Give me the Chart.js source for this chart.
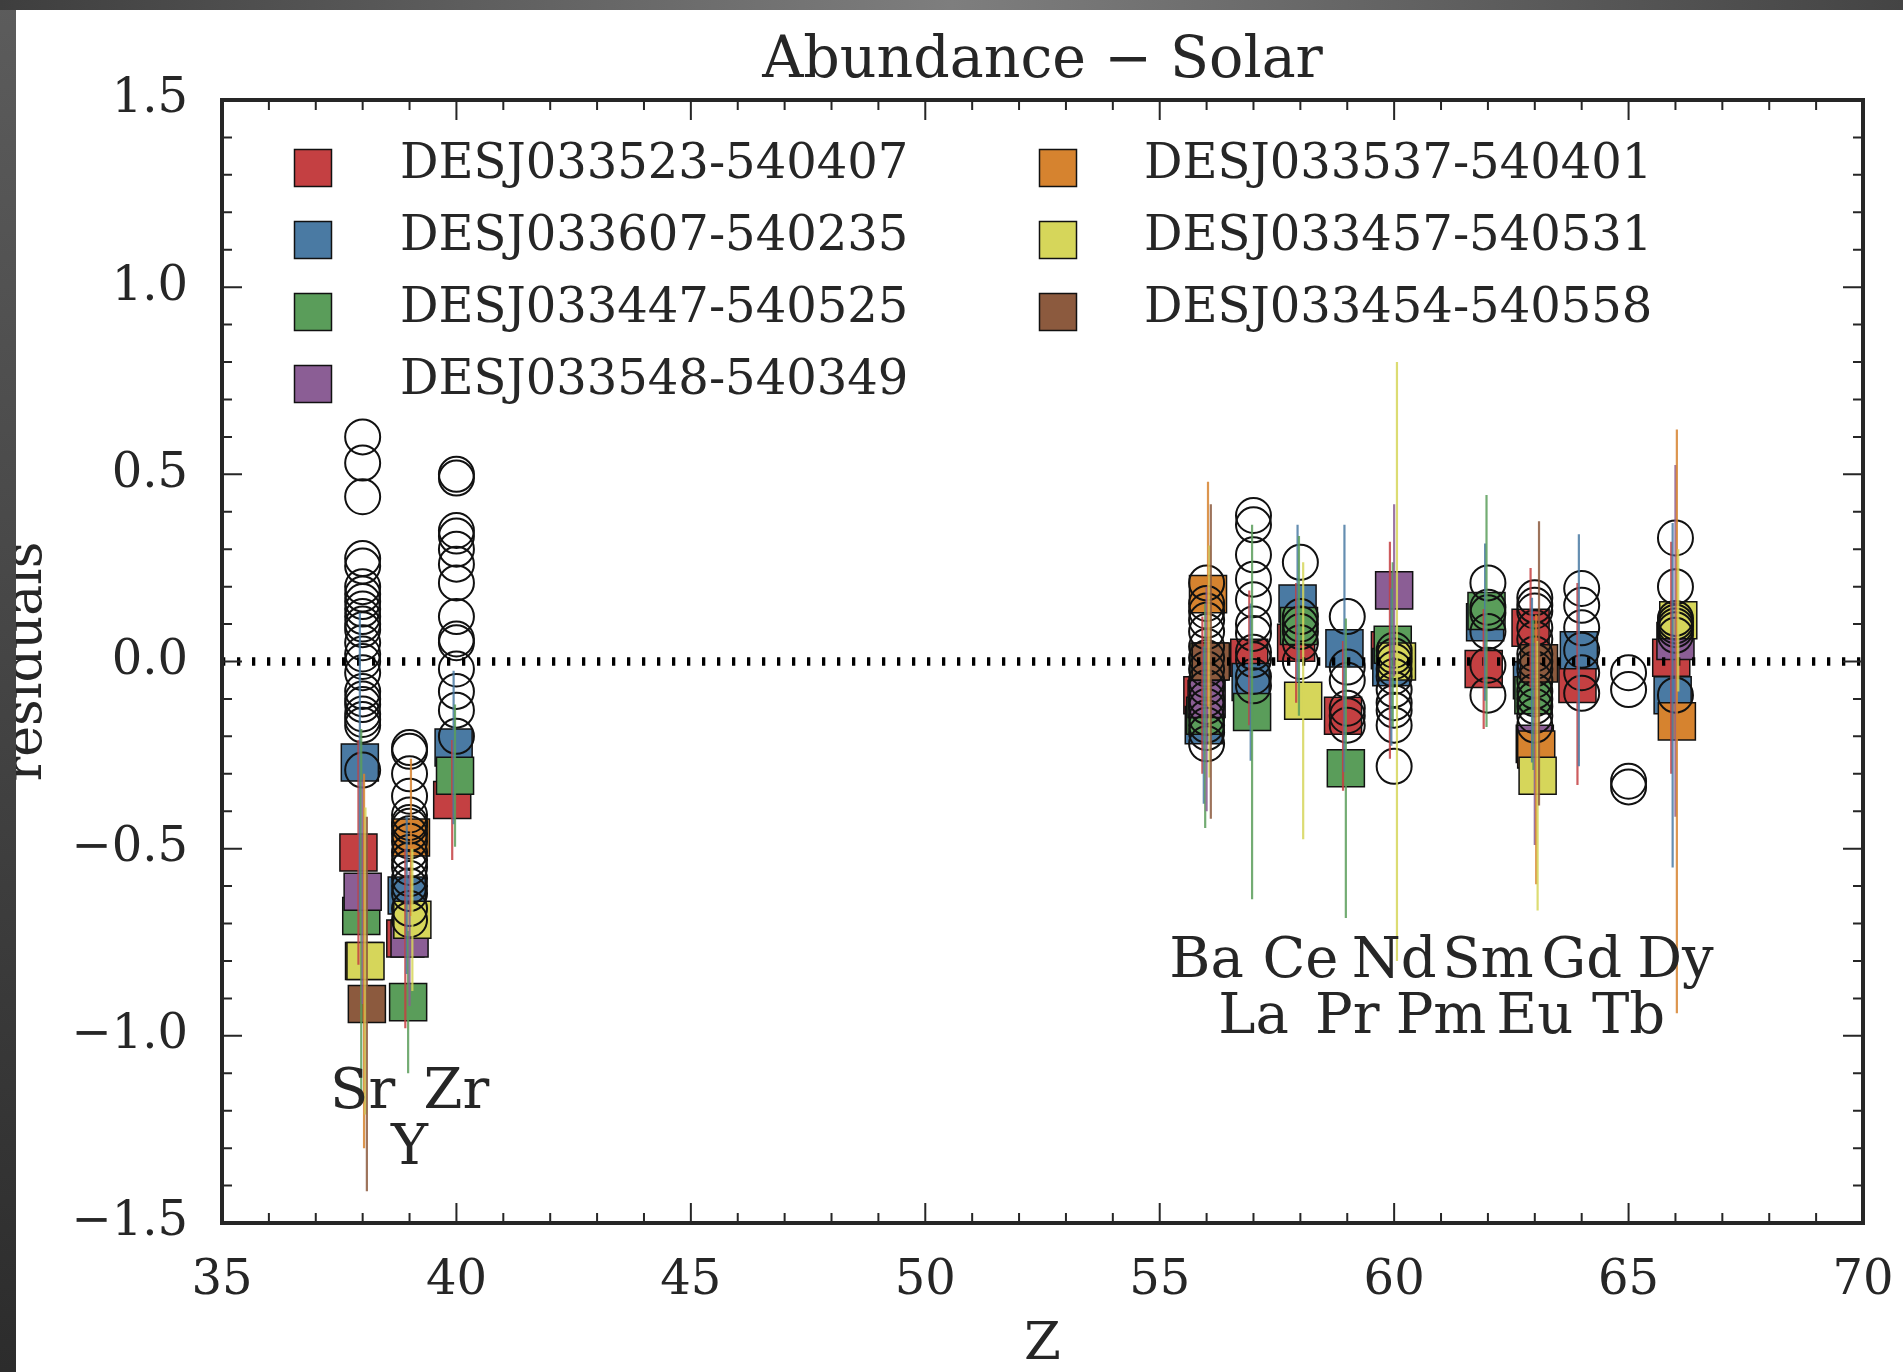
<!DOCTYPE html>
<html>
<head>
<meta charset="utf-8">
<title>Abundance - Solar</title>
<script src="https://cdn.jsdelivr.net/npm/chart.js@4.4.1/dist/chart.umd.min.js"></script>
<style>
  html, body { margin: 0; padding: 0; background: #fff; }
  #wrap { position: relative; width: 1903px; height: 1372px; overflow: hidden; }
  #chart { position: absolute; left: 0; top: 0; }
  #edge-left { position: absolute; left: 0; top: 0; width: 16px; height: 1372px;
    background: linear-gradient(to bottom, #5c5c5c, #2c2c2c); }
  #edge-top { position: absolute; left: 0; top: 0; width: 1903px; height: 10px;
    background: linear-gradient(to right, #3e3e3e, #7e7e7e 50%, #444); }
</style>
</head>
<body>
<div id="wrap">
  <canvas id="chart" width="1903" height="1372"></canvas>
  <div id="edge-left"></div>
  <div id="edge-top"></div>
</div>
<script>
// element labels along the x axis
const elementNames = ['Sr', 'Y', 'Zr', 'Ba', 'La', 'Ce', 'Pr', 'Nd', 'Pm', 'Sm', 'Eu', 'Gd', 'Tb', 'Dy'];
const elementZ = [38, 39, 40, 56, 57, 58, 59, 60, 61, 62, 63, 64, 65, 66];

const xTicks = [35, 40, 45, 50, 55, 60, 65, 70];
const yTicks = [-1.5, -1.0, -0.5, 0.0, 0.5, 1.0, 1.5];

const starNames = [
  'DESJ033523-540407', 'DESJ033607-540235', 'DESJ033447-540525', 'DESJ033548-540349',
  'DESJ033537-540401', 'DESJ033457-540531', 'DESJ033454-540558'
];
const starColors = ['#c44042', '#4a7aa3', '#5a9d5a', '#8b5e95', '#d6832f', '#d6d65a', '#8c5a3e'];

// residuals and errors per star
const redZ = [38, 39, 40, 56, 57, 58, 59, 60, 62, 63, 64, 66];
const redRes = [-0.51, -0.74, -0.37, -0.09, 0.01, 0.05, -0.145, 0.03, -0.02, 0.09, -0.06, 0.01];
const redErr = [0.30, 0.24, 0.16, 0.21, 0.18, 0.16, 0.20, 0.29, 0.16, 0.16, 0.27, 0.31];

const blueZ = [38, 39, 40, 56, 57, 58, 59, 60, 62, 63, 64, 66];
const blueRes = [-0.27, -0.625, -0.23, -0.17, -0.055, 0.155, 0.035, -0.015, 0.105, -0.05, 0.03, -0.09];
const blueErr = [0.40, 0.21, 0.205, 0.21, 0.21, 0.21, 0.33, 0.21, 0.21, 0.22, 0.31, 0.46];

const greenZ = [38, 39, 40, 56, 57, 58, 59, 60, 62, 63];
const greenRes = [-0.68, -0.91, -0.305, -0.145, -0.135, 0.095, -0.285, 0.045, 0.135, -0.09];
const greenErr = [0.50, 0.19, 0.19, 0.30, 0.50, 0.24, 0.40, 0.22, 0.31, 0.20];

const purpleZ = [38, 39, 56, 60, 63, 66];
const purpleRes = [-0.615, -0.74, -0.10, 0.19, -0.22, 0.055];
const purpleErr = [0.30, 0.18, 0.30, 0.23, 0.27, 0.47];

const orangeZ = [38, 39, 56, 63, 66];
const orangeRes = [-0.80, -0.47, 0.18, -0.235, -0.16];
const orangeErr = [0.50, 0.21, 0.30, 0.36, 0.78];

const yellowZ = [38, 39, 56, 58, 60, 63, 66];
const yellowRes = [-0.80, -0.69, 0.0, -0.105, 0.0, -0.305, 0.11];
const yellowErr = [0.41, 0.19, 0.31, 0.37, 0.80, 0.36, 0.19];

const brownZ = [38, 56, 63];
const brownRes = [-0.915, 0.0, -0.005];
const brownErr = [0.50, 0.42, 0.38];

// comparison stars (open circles), per element
const srRef = [0.60, 0.53, 0.44, 0.275, 0.255, 0.20, 0.18, 0.16, 0.14, 0.12, 0.10, 0.085, 0.05, 0.02, 0.0, -0.03, -0.08, -0.10, -0.115, -0.14, -0.155, -0.17, -0.29];
const yRef = [-0.23, -0.24, -0.30, -0.36, -0.41, -0.43, -0.44, -0.46, -0.48, -0.51, -0.53, -0.55, -0.58, -0.60, -0.62, -0.66, -0.69];
const zrRef = [0.50, 0.49, 0.35, 0.335, 0.30, 0.26, 0.21, 0.12, 0.06, 0.05, -0.02, -0.08, -0.13, -0.20];
const baRef = [0.21, 0.155, 0.135, 0.11, 0.08, 0.04, 0.01, -0.02, -0.05, -0.07, -0.10, -0.12, -0.15, -0.17, -0.19, -0.22];
const laRef = [0.39, 0.365, 0.285, 0.22, 0.165, 0.10, 0.075, 0.025, 0.005, -0.04, -0.065];
const ceRef = [0.265, 0.12, 0.10, 0.08, 0.05, 0.0];
const prRef = [0.12, -0.015, -0.05, -0.125, -0.145, -0.17];
const ndRef = [0.03, 0.015, 0.0, -0.02, -0.04, -0.075, -0.11, -0.13, -0.17, -0.28];
const smRef = [0.21, 0.145, 0.13, 0.08, -0.01, -0.09];
const euRef = [0.17, 0.15, 0.135, 0.09, 0.06, 0.02, 0.0, -0.02, -0.05, -0.08, -0.10, -0.12, -0.145, -0.17];
const gdRef = [0.195, 0.15, 0.09, 0.03, -0.03, -0.085];
const tbRef = [-0.03, -0.075, -0.32, -0.335];
const dyRef = [0.33, 0.20, 0.115, 0.105, 0.095, 0.085, 0.07, -0.09];

const ink = '#262626';
const serif = "'DejaVu Serif', serif";
const jitter = 0.03;

const starZ = [redZ, blueZ, greenZ, purpleZ, orangeZ, yellowZ, brownZ];
const starRes = [redRes, blueRes, greenRes, purpleRes, orangeRes, yellowRes, brownRes];
const starErr = [redErr, blueErr, greenErr, purpleErr, orangeErr, yellowErr, brownErr];

const refSets = [[38, srRef], [39, yRef], [40, zrRef], [56, baRef], [57, laRef], [58, ceRef],
  [59, prRef], [60, ndRef], [62, smRef], [63, euRef], [64, gdRef], [65, tbRef], [66, dyRef]];

function xOffset(i) {
  return (i - 3) * jitter;
}

function rgba(hex, a) {
  const n = parseInt(hex.slice(1), 16);
  return `rgba(${(n >> 16) & 255}, ${(n >> 8) & 255}, ${n & 255}, ${a})`;
}

const squareSets = starNames.map((name, i) => ({
  label: name,
  data: starZ[i].map((z, j) => ({ x: z + xOffset(i), y: starRes[i][j] })),
  pointStyle: 'rect',
  pointRadius: 26.2,
  backgroundColor: starColors[i],
  borderColor: '#111',
  borderWidth: 1.5,
  order: 20 - i
}));

const circleSet = {
  label: 'comparison',
  data: refSets.flatMap(([z, vals]) => vals.map(v => ({ x: z, y: v }))),
  pointStyle: 'circle',
  pointRadius: 17.5,
  backgroundColor: 'rgba(0,0,0,0)',
  borderColor: '#111',
  borderWidth: 2,
  order: 10
};

const zeroLine = {
  type: 'line',
  label: 'zero',
  data: [{ x: 35, y: 0 }, { x: 70, y: 0 }],
  borderColor: '#000',
  borderWidth: 8.5,
  borderDash: [3.3, 11.7],
  pointRadius: 0,
  order: 5
};

// vertical error bars, drawn over the markers
const errorBars = {
  id: 'errorBars',
  afterDatasetsDraw(chart) {
    const { ctx, scales: { x, y } } = chart;
    ctx.save();
    ctx.lineWidth = 2.2;
    starZ.forEach((zs, i) => {
      ctx.strokeStyle = rgba(starColors[i], 0.85);
      ctx.beginPath();
      zs.forEach((z, j) => {
        const px = x.getPixelForValue(z + xOffset(i));
        ctx.moveTo(px, y.getPixelForValue(starRes[i][j] + starErr[i][j]));
        ctx.lineTo(px, y.getPixelForValue(starRes[i][j] - starErr[i][j]));
      });
      ctx.stroke();
    });
    ctx.restore();
  }
};

// box with inward major and minor ticks on all four sides
const axisBox = {
  id: 'axisBox',
  afterDatasetsDraw(chart) {
    const { ctx, chartArea: a, scales: { x, y } } = chart;
    ctx.save();
    ctx.strokeStyle = ink;
    ctx.lineWidth = 2;
    ctx.beginPath();
    for (let v = 35; v <= 70; v++) {
      const px = x.getPixelForValue(v);
      const len = v % 5 === 0 ? 20 : 10;
      ctx.moveTo(px, a.bottom); ctx.lineTo(px, a.bottom - len);
      ctx.moveTo(px, a.top); ctx.lineTo(px, a.top + len);
    }
    for (let k = -15; k <= 15; k++) {
      const py = y.getPixelForValue(k / 10);
      const len = k % 5 === 0 ? 20 : 10;
      ctx.moveTo(a.left, py); ctx.lineTo(a.left + len, py);
      ctx.moveTo(a.right, py); ctx.lineTo(a.right - len, py);
    }
    ctx.stroke();
    ctx.lineWidth = 4;
    ctx.strokeRect(a.left, a.top, a.right - a.left, a.bottom - a.top);
    ctx.restore();
  }
};

// element symbols under each group, odd Z one row lower
const elementLabels = {
  id: 'elementLabels',
  afterDatasetsDraw(chart) {
    const { ctx, scales: { x, y } } = chart;
    ctx.save();
    ctx.font = `56px ${serif}`;
    ctx.fillStyle = ink;
    ctx.textAlign = 'center';
    ctx.textBaseline = 'middle';
    elementNames.forEach((name, i) => {
      const z = elementZ[i];
      const row = z < 50 ? -1.155 : -0.805;
      const v = z % 2 === 1 ? row - 0.148 : row;
      ctx.fillText(name, x.getPixelForValue(z), y.getPixelForValue(v));
    });
    ctx.restore();
  }
};

// two-column legend in the upper left of the plot
const starLegend = {
  id: 'starLegend',
  afterDraw(chart) {
    const { ctx, chartArea: a } = chart;
    ctx.save();
    ctx.font = `48px ${serif}`;
    ctx.textAlign = 'left';
    ctx.textBaseline = 'alphabetic';
    starNames.forEach((name, i) => {
      const col = i < 4 ? 0 : 1;
      const row = i < 4 ? i : i - 4;
      const mx = a.left + (col ? 836 : 91);
      const my = a.top + 68 + row * 72;
      ctx.fillStyle = starColors[i];
      ctx.fillRect(mx - 18.5, my - 18.5, 37, 37);
      ctx.strokeStyle = '#111';
      ctx.lineWidth = 1.5;
      ctx.strokeRect(mx - 18.5, my - 18.5, 37, 37);
      ctx.fillStyle = ink;
      ctx.fillText(name, a.left + (col ? 922 : 178), my + 10);
    });
    ctx.restore();
  }
};

new Chart(document.getElementById('chart'), {
  type: 'scatter',
  data: { datasets: [...squareSets, circleSet, zeroLine] },
  plugins: [errorBars, axisBox, elementLabels, starLegend],
  options: {
    responsive: false,
    animation: false,
    events: [],
    devicePixelRatio: 1,
    layout: { padding: { left: 0, right: 40, top: 0, bottom: 0 } },
    plugins: {
      legend: { display: false },
      tooltip: { enabled: false },
      title: {
        display: true,
        fullSize: false,
        text: 'Abundance \u2212 Solar',
        color: ink,
        font: { family: serif, size: 57, weight: 'normal', lineHeight: 1 },
        padding: { top: 34, bottom: 9 }
      }
    },
    scales: {
      x: {
        type: 'linear',
        min: 35,
        max: 70,
        afterBuildTicks(scale) {
          scale.ticks = xTicks.map(v => ({ value: v }));
        },
        afterFit(scale) {
          scale.height = 149;
          scale.paddingLeft = 0;
          scale.paddingRight = 0;
        },
        grid: { display: false, drawTicks: false },
        border: { display: false },
        ticks: {
          autoSkip: false,
          color: ink,
          padding: 30,
          font: { family: serif, size: 48 },
          callback: (v) => String(v)
        },
        title: {
          display: true,
          text: 'Z',
          color: ink,
          font: { family: serif, size: 53, lineHeight: 1 },
          padding: { top: 0, bottom: 0 }
        }
      },
      y: {
        type: 'linear',
        min: -1.5,
        max: 1.5,
        afterBuildTicks(scale) {
          scale.ticks = yTicks.map(v => ({ value: v }));
        },
        afterFit(scale) {
          scale.width = 222;
        },
        grid: { display: false, drawTicks: false },
        border: { display: false },
        ticks: {
          autoSkip: false,
          color: ink,
          padding: 34,
          font: { family: serif, size: 48 },
          callback: (v) => (v < 0 ? '\u2212' + Math.abs(v).toFixed(1) : v.toFixed(1))
        },
        title: {
          display: true,
          text: 'residuals',
          color: ink,
          font: { family: serif, size: 52, lineHeight: 1 },
          padding: { top: 1, bottom: 0 }
        }
      }
    }
  }
});
</script>
</body>
</html>
